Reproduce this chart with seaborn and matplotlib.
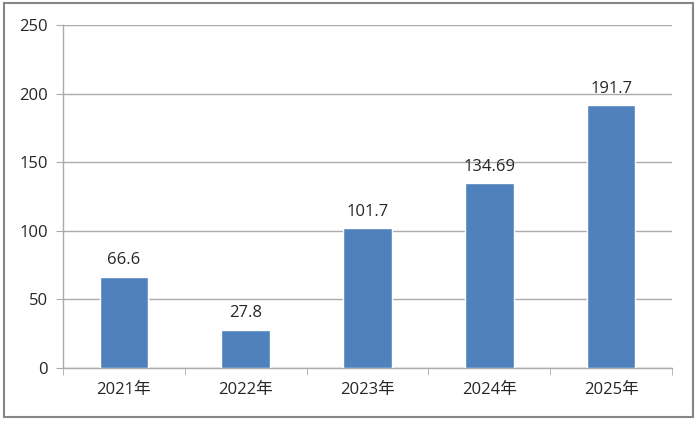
import numpy as np
import pandas as pd
import seaborn as sns
import matplotlib.pyplot as plt
from matplotlib.patches import Rectangle
from matplotlib.ticker import FixedLocator

years = ['2021年', '2022年', '2023年', '2024年', '2025年']
values = [66.6, 27.8, 101.7, 134.69, 191.7]
value_labels = ['66.6', '27.8', '101.7', '134.69', '191.7']
yticks = [0, 50, 100, 150, 200, 250]

df = pd.DataFrame({'year': years, 'value': values})

sns.set_style('white')
plt.rcParams['font.family'] = ['Open Sans', 'Noto Sans CJK SC', 'DejaVu Sans']

fig = plt.figure(figsize=(7, 4.22), dpi=100)
ax = fig.add_axes([0.09, 0.128, 0.87, 0.813])

sns.barplot(data=df, x='year', y='value', color='#4F81BD', saturation=1,
            width=0.4, ax=ax, zorder=3)

ax.set_ylim(0, 250)
ax.set_xlim(-0.5, len(years) - 0.5)
ax.set_yticks(yticks)
ax.yaxis.grid(True, color='#ABABAB', linewidth=1, zorder=0)
ax.set_xlabel('')
ax.set_ylabel('')

for s in ['top', 'right']:
    ax.spines[s].set_visible(False)
for s in ['left', 'bottom']:
    ax.spines[s].set_color('#ABABAB')
    ax.spines[s].set_linewidth(1)

ax.tick_params(axis='y', length=5, color='#ABABAB', labelsize=12,
               labelcolor='#262626', pad=6, direction='out', left=True)
ax.tick_params(axis='x', which='major', length=0, labelsize=12,
               labelcolor='#262626', pad=10)
ax.xaxis.set_minor_locator(FixedLocator(np.arange(-0.5, len(years), 1.0)))
ax.tick_params(axis='x', which='minor', length=5, color='#ABABAB',
               direction='out', bottom=True)

for i, (v, lab) in enumerate(zip(values, value_labels)):
    ax.annotate(lab, (i, v), xytext=(0, 6), textcoords='offset points',
                ha='center', va='bottom', fontsize=12, color='#262626')

fig.patches.append(Rectangle((4 / 700, 5 / 422), 689 / 700, 414 / 422,
                             transform=fig.transFigure, fill=False,
                             edgecolor='#868686', linewidth=1.5))

fig.savefig('out.png', dpi=100)
